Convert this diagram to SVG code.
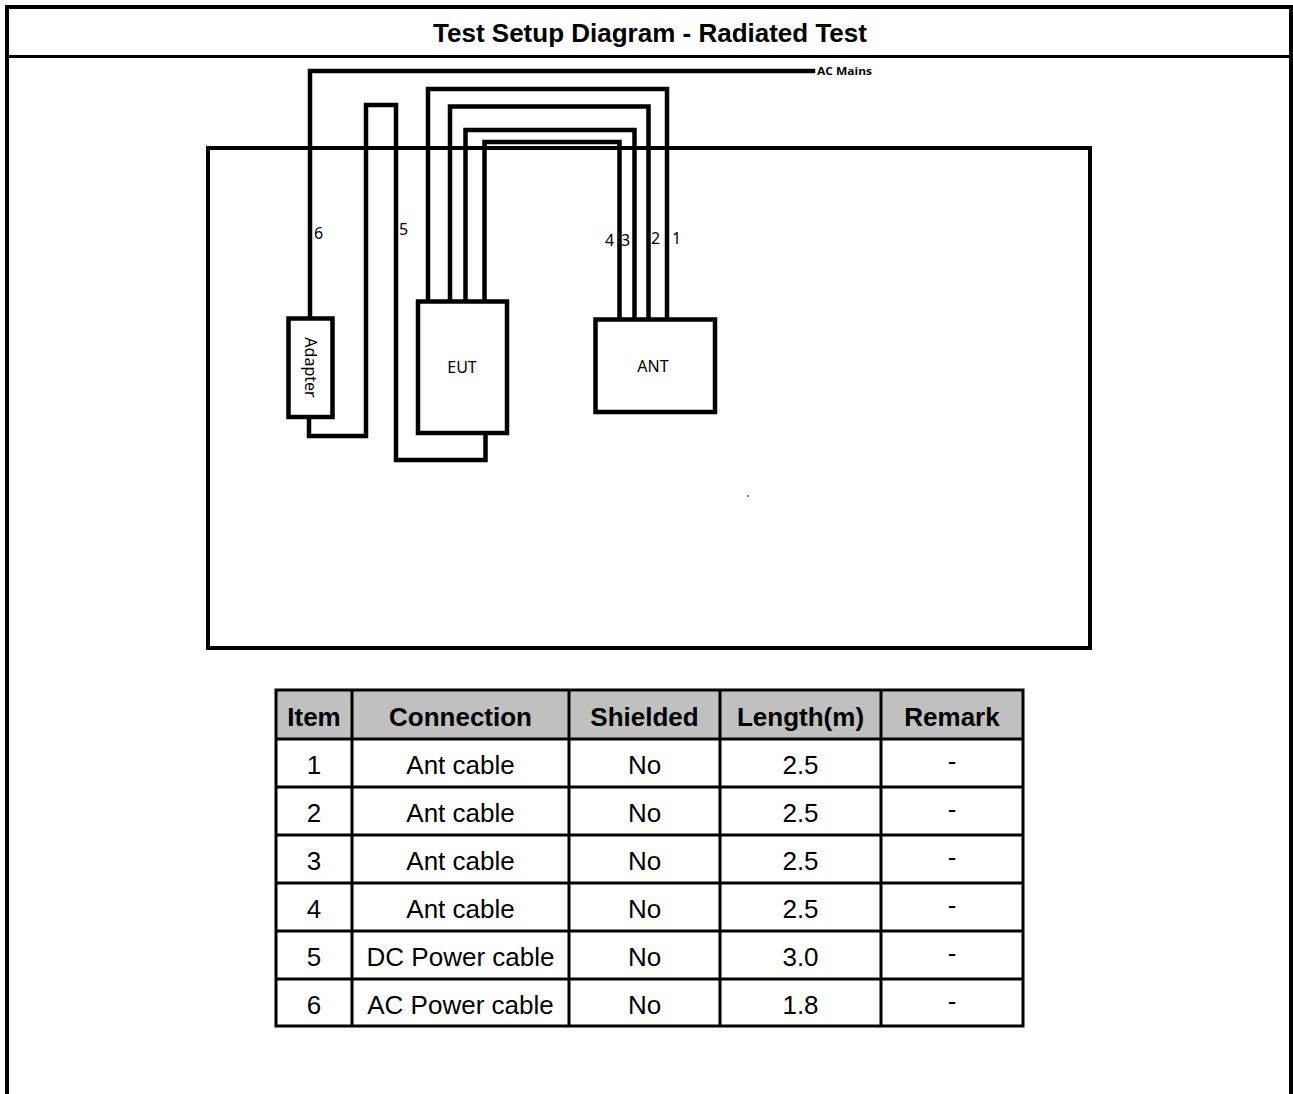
<svg xmlns="http://www.w3.org/2000/svg" width="1293" height="1094" viewBox="0 0 1293 1094">
<style>
.frame{fill:none;stroke:#000;stroke-width:4}
.box{fill:#fff;stroke:#000;stroke-width:4.5}
.cable{fill:none;stroke:#000;stroke-width:4.5;stroke-linejoin:miter;stroke-linecap:square}
.lbl{font-family:"Noto Sans","Open Sans",sans-serif;font-size:16px;fill:#000}
.title{font-family:"Liberation Sans",Arial,sans-serif;font-weight:bold;font-size:26px;fill:#000}
.th{font-family:"Liberation Sans",Arial,sans-serif;font-weight:bold;font-size:26px;fill:#000;text-anchor:middle}
.td{font-family:"Liberation Sans",Arial,sans-serif;font-size:26px;fill:#000;text-anchor:middle}
.grid{stroke:#000;stroke-width:3;fill:none}
</style>
<rect width="1293" height="1094" fill="#fff"/>
<g id="page-frame">
  <path class="frame" d="M7,1094 V7 H1291 V1094"/>
  <line x1="7" y1="56.5" x2="1291" y2="56.5" stroke="#000" stroke-width="3"/>
  <text class="title" x="650" y="42" text-anchor="middle">Test Setup Diagram - Radiated Test</text>
</g>
<g id="table-bench">
  <rect class="frame" x="208" y="148" width="882" height="500"/>
</g>
<g id="connectors">
  <path class="cable" d="M310,318 V71 H813"/>
  <path class="cable" d="M309,417 V436 H366 V105 H396 V460 H485.5 V433"/>
  <path class="cable" d="M428,301 V89 H667 V319"/>
  <path class="cable" d="M450,301 V106.5 H648.5 V319"/>
  <path class="cable" d="M465.5,301 V130 H634.5 V319"/>
  <path class="cable" d="M484.5,301 V142 H619.5 V319"/>
  <text x="817" y="75" font-family="'Open Sans','Noto Sans',sans-serif" font-weight="bold" font-size="10" textLength="55" lengthAdjust="spacingAndGlyphs">AC Mains</text>
  <text class="lbl" x="314" y="239">6</text>
  <text class="lbl" x="399" y="235">5</text>
  <text class="lbl" x="605" y="246">4</text>
  <text class="lbl" x="621" y="246">3</text>
  <text class="lbl" x="651" y="244">2</text>
  <text class="lbl" x="672" y="244">1</text>
</g>
<g id="adapter">
  <rect class="box" x="288.5" y="318.5" width="44" height="98.5"/>
  <text class="lbl" transform="translate(305,367.5) rotate(90)" text-anchor="middle">Adapter</text>
</g>
<g id="eut">
  <rect class="box" x="418" y="301.5" width="89" height="131.5"/>
  <text class="lbl" x="462" y="373" text-anchor="middle">EUT</text>
</g>
<g id="ant">
  <rect class="box" x="595.5" y="319.5" width="119.5" height="92.5"/>
  <text class="lbl" x="653" y="372" text-anchor="middle">ANT</text>
</g>
<rect x="747" y="495" width="2" height="2" fill="#888"/>
<g id="cable-table">
  <rect x="276" y="690" width="747" height="49" fill="#c0c0c0"/>
  <rect class="grid" x="276" y="690" width="747" height="336"/>
  <g class="grid">
    <line x1="352" y1="690" x2="352" y2="1026"/>
    <line x1="569" y1="690" x2="569" y2="1026"/>
    <line x1="720" y1="690" x2="720" y2="1026"/>
    <line x1="881" y1="690" x2="881" y2="1026"/>
    <line x1="276" y1="739" x2="1023" y2="739"/>
    <line x1="276" y1="787" x2="1023" y2="787"/>
    <line x1="276" y1="835" x2="1023" y2="835"/>
    <line x1="276" y1="883" x2="1023" y2="883"/>
    <line x1="276" y1="931" x2="1023" y2="931"/>
    <line x1="276" y1="979" x2="1023" y2="979"/>
  </g>
  <text class="th" x="314" y="726">Item</text>
  <text class="th" x="460.5" y="726">Connection</text>
  <text class="th" x="644.5" y="726">Shielded</text>
  <text class="th" x="800.5" y="726">Length(m)</text>
  <text class="th" x="952" y="726">Remark</text>
  <g>
    <text class="td" x="314" y="774">1</text><text class="td" x="460.5" y="774">Ant cable</text><text class="td" x="644.5" y="774">No</text><text class="td" x="800.5" y="774">2.5</text><text class="td" x="952" y="770">-</text>
    <text class="td" x="314" y="822">2</text><text class="td" x="460.5" y="822">Ant cable</text><text class="td" x="644.5" y="822">No</text><text class="td" x="800.5" y="822">2.5</text><text class="td" x="952" y="818">-</text>
    <text class="td" x="314" y="870">3</text><text class="td" x="460.5" y="870">Ant cable</text><text class="td" x="644.5" y="870">No</text><text class="td" x="800.5" y="870">2.5</text><text class="td" x="952" y="866">-</text>
    <text class="td" x="314" y="918">4</text><text class="td" x="460.5" y="918">Ant cable</text><text class="td" x="644.5" y="918">No</text><text class="td" x="800.5" y="918">2.5</text><text class="td" x="952" y="914">-</text>
    <text class="td" x="314" y="966">5</text><text class="td" x="460.5" y="966">DC Power cable</text><text class="td" x="644.5" y="966">No</text><text class="td" x="800.5" y="966">3.0</text><text class="td" x="952" y="962">-</text>
    <text class="td" x="314" y="1014">6</text><text class="td" x="460.5" y="1014">AC Power cable</text><text class="td" x="644.5" y="1014">No</text><text class="td" x="800.5" y="1014">1.8</text><text class="td" x="952" y="1010">-</text>
  </g>
</g>
</svg>
